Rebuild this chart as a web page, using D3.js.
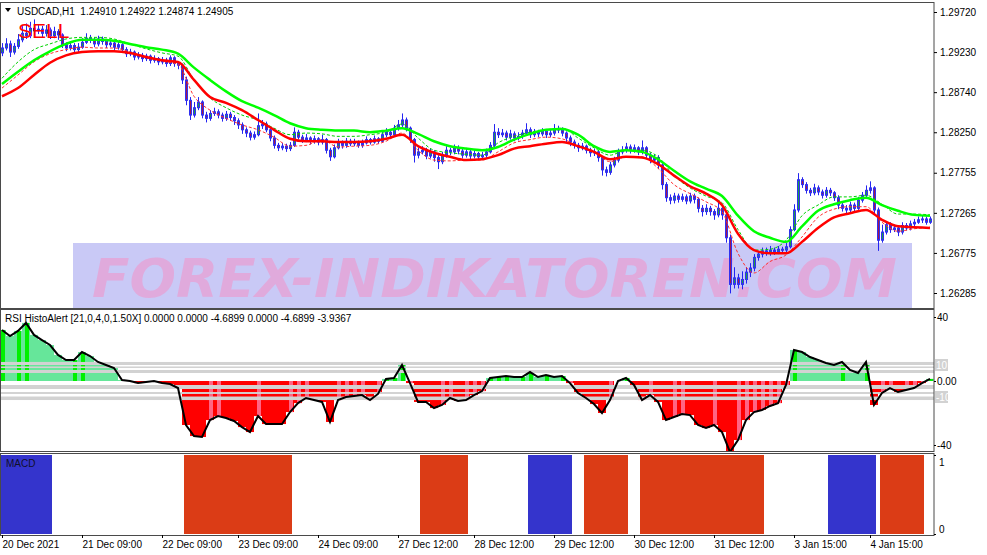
<!DOCTYPE html>
<html>
<head>
<meta charset="utf-8">
<style>
  body { margin: 0; background: #fff; }
  svg { display: block; font-family: "Liberation Sans", Arial, sans-serif; }
  .lbl { font-size: 10px; fill: #000; }
</style>
<script src="https://cdn.jsdelivr.net/npm/d3@7"></script>
</head>
<body>
<script>
// ---- data (H1 bars, oldest first) ----
var firstOpen = 1.2922;
var closes = [
1.2928,1.2933,1.2923,1.2930,1.2938,1.2946,1.2943,1.2952,1.2949,1.2951,
1.2946,1.2950,1.2943,1.2948,1.2944,1.2932,1.2928,1.2931,1.2926,1.2929,
1.2935,1.2940,1.2938,1.2933,1.2939,1.2936,1.2932,1.2934,1.2929,1.2932,
1.2926,1.2921,1.2923,1.2917,1.2919,1.2915,1.2918,1.2913,1.2915,1.2911,
1.2913,1.2909,1.2916,1.2909,1.2907,1.2889,1.2864,1.2846,1.2855,1.2862,
1.2846,1.2842,1.2848,1.2850,1.2846,1.2842,1.2847,1.2843,1.2839,1.2834,
1.2828,1.2824,1.2819,1.2822,1.2833,1.2835,1.2828,1.2818,1.2809,1.2806,
1.2808,1.2805,1.2809,1.2825,1.2819,1.2816,1.2818,1.2814,1.2817,1.2813,
1.2816,1.2803,1.2795,1.2806,1.2812,1.2809,1.2814,1.2811,1.2813,1.2809,
1.2812,1.2816,1.2813,1.2817,1.2814,1.2822,1.2825,1.2822,1.2830,1.2834,
1.2840,1.2830,1.2816,1.2797,1.2801,1.2803,1.2796,1.2801,1.2794,1.2789,
1.2797,1.2803,1.2801,1.2806,1.2802,1.2797,1.2801,1.2796,1.2799,1.2795,
1.2797,1.2801,1.2809,1.2825,1.2822,1.2824,1.2819,1.2823,1.2818,1.2820,
1.2824,1.2828,1.2822,1.2825,1.2823,1.2826,1.2822,1.2824,1.2829,1.2828,
1.2824,1.2818,1.2813,1.2809,1.2806,1.2808,1.2803,1.2800,1.2801,1.2794,
1.2779,1.2776,1.2785,1.2791,1.2801,1.2803,1.2807,1.2803,1.2806,1.2801,
1.2806,1.2797,1.2791,1.2794,1.2785,1.2761,1.2745,1.2742,1.2747,1.2743,
1.2746,1.2741,1.2747,1.2743,1.2732,1.2728,1.2732,1.2728,1.2724,1.2732,
1.2724,1.2696,1.2639,1.2647,1.2639,1.2645,1.2654,1.2659,1.2672,1.2676,
1.2680,1.2678,1.2681,1.2679,1.2682,1.2681,1.2685,1.2706,1.2730,1.2767,
1.2761,1.2754,1.2751,1.2757,1.2752,1.2748,1.2754,1.2751,1.2745,1.2736,
1.2732,1.2730,1.2736,1.2732,1.2742,1.2748,1.2754,1.2757,1.2730,1.2693,
1.2703,1.2712,1.2706,1.2708,1.2703,1.2711,1.2708,1.2713,1.2715,1.2718,
1.2719,1.2715,1.2719];
var highs = [
1.2934,1.2940,1.2937,1.2934,1.2945,1.2955,1.2958,1.2960,1.2963,1.2957,
1.2955,1.2956,1.2953,1.2954,1.2951,1.2946,1.2935,1.2936,1.2934,1.2934,
1.2940,1.2946,1.2944,1.2941,1.2943,1.2942,1.2939,1.2938,1.2937,1.2936,
1.2934,1.2929,1.2927,1.2925,1.2923,1.2922,1.2921,1.2920,1.2919,1.2917,
1.2917,1.2916,1.2919,1.2918,1.2912,1.2909,1.2893,1.2868,1.2862,1.2868,
1.2864,1.2850,1.2852,1.2855,1.2853,1.2849,1.2851,1.2850,1.2846,1.2842,
1.2837,1.2831,1.2827,1.2826,1.2848,1.2840,1.2838,1.2830,1.2821,1.2812,
1.2812,1.2811,1.2813,1.2831,1.2828,1.2822,1.2823,1.2820,1.2821,1.2819,
1.2822,1.2818,1.2806,1.2810,1.2817,1.2815,1.2818,1.2817,1.2817,1.2815,
1.2816,1.2820,1.2818,1.2821,1.2819,1.2826,1.2830,1.2828,1.2834,1.2840,
1.2848,1.2843,1.2832,1.2818,1.2806,1.2808,1.2806,1.2805,1.2803,1.2797,
1.2801,1.2808,1.2806,1.2810,1.2809,1.2805,1.2805,1.2804,1.2803,1.2801,
1.2801,1.2805,1.2813,1.2835,1.2830,1.2829,1.2827,1.2828,1.2826,1.2825,
1.2828,1.2836,1.2831,1.2829,1.2828,1.2830,1.2829,1.2828,1.2835,1.2833,
1.2831,1.2826,1.2821,1.2816,1.2812,1.2812,1.2810,1.2806,1.2805,1.2803,
1.2796,1.2783,1.2789,1.2795,1.2805,1.2808,1.2812,1.2810,1.2810,1.2808,
1.2815,1.2808,1.2800,1.2798,1.2797,1.2787,1.2764,1.2749,1.2751,1.2750,
1.2750,1.2749,1.2751,1.2750,1.2745,1.2736,1.2737,1.2735,1.2731,1.2740,
1.2735,1.2726,1.2700,1.2660,1.2652,1.2655,1.2660,1.2665,1.2676,1.2680,
1.2684,1.2684,1.2686,1.2684,1.2686,1.2685,1.2690,1.2710,1.2737,1.2775,
1.2770,1.2764,1.2757,1.2762,1.2760,1.2755,1.2758,1.2757,1.2753,1.2748,
1.2740,1.2736,1.2740,1.2739,1.2746,1.2752,1.2760,1.2765,1.2759,1.2733,
1.2712,1.2716,1.2715,1.2712,1.2711,1.2715,1.2714,1.2717,1.2719,1.2722,
1.2723,1.2722,1.2722];
var lows = [
1.2918,1.2925,1.2917,1.2920,1.2927,1.2935,1.2939,1.2940,1.2944,1.2945,
1.2941,1.2942,1.2939,1.2940,1.2938,1.2928,1.2924,1.2925,1.2922,1.2923,
1.2927,1.2933,1.2934,1.2929,1.2930,1.2932,1.2928,1.2929,1.2925,1.2926,
1.2922,1.2917,1.2918,1.2913,1.2914,1.2911,1.2912,1.2909,1.2910,1.2907,
1.2908,1.2905,1.2906,1.2905,1.2902,1.2884,1.2858,1.2840,1.2843,1.2852,
1.2842,1.2837,1.2839,1.2845,1.2842,1.2838,1.2839,1.2839,1.2834,1.2829,
1.2823,1.2819,1.2815,1.2816,1.2820,1.2829,1.2825,1.2814,1.2805,1.2802,
1.2803,1.2801,1.2802,1.2807,1.2816,1.2812,1.2813,1.2810,1.2811,1.2809,
1.2810,1.2799,1.2790,1.2793,1.2804,1.2805,1.2806,1.2808,1.2808,1.2806,
1.2806,1.2810,1.2810,1.2811,1.2811,1.2812,1.2819,1.2819,1.2820,1.2827,
1.2831,1.2826,1.2812,1.2788,1.2793,1.2798,1.2792,1.2793,1.2789,1.2780,
1.2786,1.2794,1.2797,1.2798,1.2798,1.2793,1.2794,1.2792,1.2793,1.2791,
1.2792,1.2794,1.2799,1.2806,1.2818,1.2819,1.2815,1.2816,1.2814,1.2815,
1.2817,1.2821,1.2818,1.2819,1.2819,1.2820,1.2818,1.2819,1.2821,1.2824,
1.2820,1.2813,1.2808,1.2805,1.2801,1.2803,1.2799,1.2795,1.2796,1.2789,
1.2772,1.2771,1.2773,1.2782,1.2788,1.2798,1.2800,1.2799,1.2800,1.2797,
1.2798,1.2793,1.2787,1.2787,1.2780,1.2755,1.2740,1.2737,1.2738,1.2739,
1.2740,1.2737,1.2738,1.2738,1.2727,1.2722,1.2724,1.2723,1.2718,1.2721,
1.2718,1.2690,1.2628,1.2634,1.2634,1.2633,1.2640,1.2648,1.2655,1.2668,
1.2672,1.2674,1.2674,1.2675,1.2676,1.2677,1.2678,1.2683,1.2704,1.2727,
1.2757,1.2750,1.2747,1.2748,1.2748,1.2744,1.2745,1.2747,1.2741,1.2731,
1.2728,1.2726,1.2727,1.2728,1.2730,1.2739,1.2745,1.2750,1.2725,1.2680,
1.2690,1.2700,1.2702,1.2703,1.2698,1.2700,1.2705,1.2705,1.2710,1.2713,
1.2714,1.2712,1.2713];

// moving averages, one value every 4 bars
var maStep = 4;
var maSlowUpper = [
1.2884,1.2899,1.2913,1.2924,1.2933,1.2938,1.2938,1.2937,1.2933,1.2929,
1.2926,1.2921,1.2904,1.2889,1.2875,1.2863,1.2855,1.2846,1.2836,1.2830,
1.2828,1.2827,1.2827,1.2825,1.2827,1.2830,1.2823,1.2814,1.2808,1.2805,
1.2803,1.2807,1.2816,1.2823,1.2828,1.2829,1.2822,1.2808,1.2801,1.2803,
1.2801,1.2792,1.2778,1.2765,1.2756,1.2747,1.2723,1.2704,1.2696,1.2691,
1.2710,1.2729,1.2737,1.2742,1.2745,1.2736,1.2729,1.2724,1.2723];
var maSlowLower = [
1.2869,1.2879,1.2895,1.2910,1.2919,1.2923,1.2924,1.2924,1.2922,1.2917,
1.2913,1.2911,1.2889,1.2868,1.2861,1.2852,1.2840,1.2828,1.2817,1.2814,
1.2814,1.2813,1.2813,1.2814,1.2817,1.2822,1.2808,1.2800,1.2795,1.2791,
1.2792,1.2797,1.2805,1.2808,1.2811,1.2813,1.2808,1.2801,1.2792,1.2795,
1.2794,1.2786,1.2772,1.2759,1.2750,1.2736,1.2701,1.2681,1.2677,1.2677,
1.2691,1.2708,1.2721,1.2726,1.2730,1.2718,1.2710,1.2709,1.2708];
var maFastUpper = [
1.2891,1.2911,1.2926,1.2933,1.2939,1.2941,1.2941,1.2939,1.2933,1.2927,
1.2922,1.2918,1.2889,1.2867,1.2855,1.2846,1.2840,1.2830,1.2822,1.2824,
1.2823,1.2820,1.2820,1.2822,1.2825,1.2835,1.2818,1.2803,1.2800,1.2798,
1.2797,1.2812,1.2820,1.2825,1.2828,1.2830,1.2818,1.2806,1.2797,1.2803,
1.2803,1.2795,1.2772,1.2757,1.2747,1.2739,1.2706,1.2681,1.2682,1.2693,
1.2723,1.2736,1.2746,1.2746,1.2748,1.2737,1.2725,1.2725,1.2724];
var maFastLower = [
1.2879,1.2895,1.2911,1.2921,1.2926,1.2929,1.2928,1.2928,1.2923,1.2917,
1.2912,1.2908,1.2869,1.2852,1.2842,1.2834,1.2828,1.2819,1.2808,1.2809,
1.2816,1.2807,1.2808,1.2809,1.2814,1.2824,1.2803,1.2791,1.2790,1.2791,
1.2791,1.2801,1.2812,1.2816,1.2819,1.2817,1.2808,1.2802,1.2789,1.2795,
1.2795,1.2781,1.2761,1.2750,1.2740,1.2728,1.2677,1.2653,1.2667,1.2675,
1.2697,1.2721,1.2731,1.2734,1.2734,1.2715,1.2704,1.2707,1.2709];

var priceTicks = [1.29720, 1.29230, 1.28740, 1.28250, 1.27755, 1.27265, 1.26775, 1.26285];

// RSI HistoAlert, one value every 2 bars
var rsiStep = 2;
var rsiValues = [
31.9,28.1,31.3,36.3,28.8,25.6,22.5,16.3,13.1,13.1,
18.1,15.6,11.9,10,8.1,0.6,0,-1.3,-0.6,0,
-1.3,-1.9,-4.4,-27.5,-34.4,-35,-24.4,-21.9,-23.1,-25,
-28.8,-31.9,-21.9,-26.9,-26.9,-26.9,-19.4,-13.8,-10.6,-11.9,
-13.1,-25.6,-11.9,-10,-9.4,-8.8,-11.9,-8.1,1.3,1.9,
10,-1.3,-13.1,-13.1,-16.9,-15,-10.6,-12.5,-11.9,-8.8,
-6.3,1.9,2.5,3.1,2.5,2.5,5.6,2.5,3.8,2.5,
3.1,-1.3,-7.5,-10.6,-14.4,-20,-11.9,0,1.9,-2.5,
-11.9,-8.8,-13.1,-24.4,-22.5,-20.6,-21.3,-27.5,-29.4,-27.5,
-31.9,-44.4,-36.9,-24.4,-19.4,-18.1,-15.6,-13.8,-2.5,19.4,
18.1,15,13.1,11.3,10,11.9,6.9,5,11.9,-15,
-7.5,-4.4,-6.9,-5.6,-4.4,-1.3,1.3];
var rsiLevelBands = [[10, 11.9], [8.1, 9.1], [5, 6.9], [-5, -2.5], [-8.1, -6.9], [-11.9, -9.7]];
var rsiTicks = [40, 0, -40];
var rsiTickLabels = ["40", "0.00", "-40"];

// MACD signal blocks: [first bar, last bar, direction]
var macdBlocks = [[0, 12, "up"], [46, 72, "down"], [105, 116, "down"], [132, 142, "up"],
                  [146, 156, "down"], [160, 190, "down"], [207, 218, "up"], [220, 230, "down"]];

var timeTickBars = [0, 20, 40, 59, 79, 99, 118, 138, 158, 178, 198, 217];
var timeTickLabels = ["20 Dec 2021", "21 Dec 09:00", "22 Dec 09:00", "23 Dec 09:00", "24 Dec 09:00",
                      "27 Dec 12:00", "28 Dec 12:00", "29 Dec 12:00", "30 Dec 12:00", "31 Dec 12:00",
                      "3 Jan 15:00", "4 Jan 15:00"];

// ---- layout ----
var W = 987, H = 555, plotRight = 934;
var mainTop = 3, mainBot = 308, rsiTop = 310, rsiBot = 451, macdTop = 454, macdBot = 535;

var svg = d3.select("body").append("svg").attr("width", W).attr("height", H);

var x = d3.scaleLinear().domain([0, closes.length - 1]).range([2, 930]);
var yP = d3.scaleLinear().domain([1.26285, 1.29720]).range([293, 12]);
var yR = d3.scaleLinear().domain([-40, 40]).range([445, 317]);
var yM = d3.scaleLinear().domain([0, 1]).range([534, 455]);

var defs = svg.append("defs");
function clip(id, y0, y1) {
    defs.append("clipPath").attr("id", id).append("rect")
        .attr("x", 1).attr("y", y0).attr("width", plotRight - 1).attr("height", y1 - y0);
}
clip("cMain", mainTop, mainBot);
clip("cRsi", rsiTop, rsiBot);
clip("cMacd", macdTop, macdBot);

// ---- main pane ----
var main = svg.append("g").attr("clip-path", "url(#cMain)");

main.append("rect").attr("x", 73).attr("y", 243).attr("width", 839).attr("height", 70)
    .attr("fill", "#c9c9f6");
main.append("text").attr("x", 92).attr("y", 297)
    .attr("textLength", 805).attr("lengthAdjust", "spacingAndGlyphs")
    .style("font-family", "'DejaVu Sans', sans-serif").style("font-size", "54px")
    .style("font-weight", "bold").style("font-style", "italic")
    .attr("fill", "#e0aadc").text("FOREX-INDIKATOREN.COM");

var bars = closes.map(function(c, i) {
    return { i: i, o: i ? closes[i - 1] : firstOpen, c: c, h: highs[i], l: lows[i] };
});

var candle = main.selectAll("g.bar").data(bars).enter().append("g").attr("class", "bar");
candle.append("line")
    .attr("x1", function(d) { return x(d.i) + 0.5; })
    .attr("x2", function(d) { return x(d.i) + 0.5; })
    .attr("y1", function(d) { return yP(d.h); })
    .attr("y2", function(d) { return yP(d.l); })
    .attr("stroke", "#2424f2").attr("stroke-width", 1);
candle.append("rect")
    .attr("x", function(d) { return x(d.i) - 0.5; })
    .attr("width", 2)
    .attr("y", function(d) { return yP(Math.max(d.o, d.c)); })
    .attr("height", function(d) { return Math.max(1, Math.abs(yP(d.o) - yP(d.c))); })
    .attr("fill", function(d) { return d.c >= d.o ? "#1e9e46" : "#a4174e"; })
    .attr("stroke", "#3030f0").attr("stroke-width", 1);

main.append("text").attr("x", 18).attr("y", 38)
    .style("font-family", "'Liberation Sans', Arial, sans-serif").style("font-size", "21px")
    .style("fill", "#ff0000").text("SELL");

function maLine(arr) {
    return d3.line()
        .x(function(d, k) { return x(k * maStep); })
        .y(function(d) { return yP(d); })
        .curve(d3.curveMonotoneX)(arr);
}
main.append("path").attr("d", maLine(maFastUpper)).attr("fill", "none")
    .attr("stroke", "#00d000").attr("stroke-width", 1).attr("stroke-dasharray", "3,2");
main.append("path").attr("d", maLine(maFastLower)).attr("fill", "none")
    .attr("stroke", "#ff3030").attr("stroke-width", 1).attr("stroke-dasharray", "3,2");
main.append("path").attr("d", maLine(maSlowUpper)).attr("fill", "none")
    .attr("stroke", "#00ff00").attr("stroke-width", 2.5);
main.append("path").attr("d", maLine(maSlowLower)).attr("fill", "none")
    .attr("stroke", "#ff0000").attr("stroke-width", 2.5);

// ---- RSI pane ----
var rsi = svg.append("g").attr("clip-path", "url(#cRsi)");
var rsiPts = rsiValues.map(function(v, k) { return { i: k * rsiStep, v: v, p: k ? rsiValues[k - 1] : v }; });

function histoTop(d) { return Math.min(yR(d.v), yR(0)); }
function histoH(d) { return Math.abs(yR(d.v) - yR(0)); }

// base bar per sample: light mint above zero, bright red below
rsi.selectAll("rect.h").data(rsiPts).enter().append("rect").attr("class", "h")
    .attr("x", function(d) { return x(d.i) - 4; })
    .attr("width", 8)
    .attr("y", histoTop).attr("height", histoH)
    .attr("fill", function(d) { return d.v >= 0 ? "#66e69a" : "#ff0000"; });
// stripe: bright green where a rise strengthens, pink where a fall weakens
rsi.selectAll("rect.s").data(rsiPts.filter(function(d) {
        return d.v >= 0 ? d.v >= d.p : Math.abs(d.v) < Math.abs(d.p);
    }))
    .enter().append("rect").attr("class", "s")
    .attr("x", function(d) { return x(d.i) - 1; })
    .attr("width", 4)
    .attr("y", histoTop).attr("height", histoH)
    .attr("fill", function(d) { return d.v >= 0 ? "#00f000" : "#ff6484"; });

rsi.selectAll("rect.band").data(rsiLevelBands).enter().append("rect").attr("class", "band")
    .attr("x", 1).attr("width", plotRight - 1)
    .attr("y", function(d) { return yR(d[1]); })
    .attr("height", function(d) { return yR(d[0]) - yR(d[1]); })
    .attr("fill", "#d2d2d2");

rsi.append("path")
    .attr("d", d3.line().x(function(d) { return x(d.i); }).y(function(d) { return yR(d.v); })(rsiPts))
    .attr("fill", "none").attr("stroke", "#000").attr("stroke-width", 2);

svg.append("text").attr("class", "lbl").attr("x", 5).attr("y", 322)
    .text("RSI HistoAlert [21,0,4,0,1.50X] 0.0000 0.0000 -4.6899 0.0000 -4.6899 -3.9367");

// level tags on the right
[[10, "10"], [-10, "-10"]].forEach(function(t) {
    svg.append("rect").attr("x", 935).attr("y", yR(t[0]) - 6).attr("width", 13).attr("height", 12)
        .attr("fill", "#d2d2d2");
    svg.append("text").attr("class", "lbl").attr("x", 936).attr("y", yR(t[0]) + 4)
        .style("fill", "#fff").text(t[1]);
});

// ---- MACD pane ----
var macd = svg.append("g").attr("clip-path", "url(#cMacd)");
macd.selectAll("rect").data(macdBlocks).enter().append("rect")
    .attr("x", function(d) { return x(d[0]) - 2; })
    .attr("width", function(d) { return x(d[1]) - x(d[0]) + 4; })
    .attr("y", yM(1))
    .attr("height", yM(0) - yM(1))
    .attr("fill", function(d) { return d[2] === "up" ? "#3434cc" : "#db3c16"; });
svg.append("text").attr("class", "lbl").attr("x", 6).attr("y", 467)
    .style("fill", "#10102a").text("MACD");

// ---- frames ----
[[mainTop - 1, mainBot], [rsiTop - 1, rsiBot], [macdTop - 1, macdBot]].forEach(function(p) {
    svg.append("rect").attr("x", 0.5).attr("y", p[0] + 0.5)
        .attr("width", plotRight - 0.5).attr("height", p[1] - p[0])
        .attr("fill", "none").attr("stroke", "#4a4a4a").attr("stroke-width", 1);
});

// ---- axes ----
function styleAxis(g) {
    g.select(".domain").remove();
    g.selectAll("text").attr("font-family", "'Liberation Sans', Arial, sans-serif")
        .attr("font-size", 10).attr("fill", "#000");
    g.selectAll("line").attr("stroke", "#000");
}

svg.append("g").attr("transform", "translate(" + plotRight + ",0)")
    .call(d3.axisRight(yP).tickValues(priceTicks).tickFormat(d3.format(".5f")).tickSize(3).tickPadding(3))
    .call(styleAxis);

svg.append("g").attr("transform", "translate(" + plotRight + ",0)")
    .call(d3.axisRight(yR).tickValues(rsiTicks)
        .tickFormat(function(d, i) { return rsiTickLabels[i]; }).tickSize(2).tickPadding(1))
    .call(styleAxis);

var macdAxis = svg.append("g").attr("transform", "translate(" + plotRight + ",0)")
    .call(d3.axisRight(yM).tickValues([1, 0]).tickFormat(d3.format("d")).tickSize(2).tickPadding(3))
    .call(styleAxis);
macdAxis.selectAll(".tick text").attr("dy", function(d) { return d === 1 ? "1.0em" : "-0.2em"; });

svg.append("g").attr("transform", "translate(0," + macdBot + ")")
    .call(d3.axisBottom(x).tickValues(timeTickBars)
        .tickFormat(function(d, i) { return timeTickLabels[i]; }).tickSize(3).tickPadding(3))
    .call(styleAxis)
    .selectAll("text").attr("text-anchor", "start").attr("x", 0);

// ---- header ----
svg.append("path").attr("d", "M5,8 L11,8 L8,12 Z").attr("fill", "#000");
svg.append("text").attr("class", "lbl").attr("x", 17).attr("y", 15)
    .text("USDCAD,H1\u00a0\u00a01.24910 1.24922 1.24874 1.24905");
</script>
</body>
</html>
